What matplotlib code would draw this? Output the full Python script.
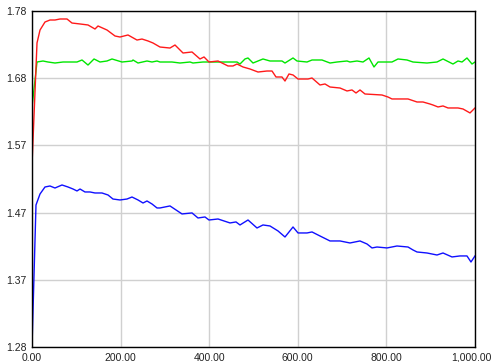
import matplotlib
matplotlib.use('Agg')
import matplotlib.pyplot as plt
import matplotlib.transforms as mtransforms

# values
red_x = [0, 11.3, 18.1, 29.3, 40.6, 51.9, 63.2, 79.0, 90.3, 108.4, 126.4, 142.2, 149.0,
         169.3, 187.4, 198.6, 216.7, 237.0, 248.3, 261.9, 273.1, 288.9, 311.5, 322.8,
         340.9, 361.2, 379.2, 388.3, 399.5, 419.9, 442.4, 453.7, 462.8, 476.3, 492.1,
         510.2, 530.5, 541.8, 550.8, 564.3, 571.1, 580.1, 589.2, 600.5, 623.0, 632.1,
         650.1, 661.4, 672.7, 695.3, 711.1, 722.3, 731.4, 740.4, 751.7, 790.1, 803.6,
         812.6, 848.8, 869.1, 882.6, 898.4, 905.2, 916.5, 927.8, 939.1, 961.6, 972.9,
         988.7, 1000]
red_y = [1.551, 1.7324, 1.7517, 1.7636, 1.7666, 1.7666, 1.7681, 1.7681, 1.7621, 1.7607,
         1.7592, 1.7532, 1.7577, 1.7517, 1.7428, 1.7413, 1.7443, 1.7368, 1.7383, 1.7354,
         1.7324, 1.7264, 1.7249, 1.7294, 1.7175, 1.7190, 1.7086, 1.7116, 1.7041, 1.7056,
         1.6982, 1.6982, 1.7011, 1.6967, 1.6937, 1.6892, 1.6907, 1.6907, 1.6818, 1.6818,
         1.6758, 1.6863, 1.6848, 1.6788, 1.6788, 1.6803, 1.6699, 1.6714, 1.6669, 1.6654,
         1.6610, 1.6625, 1.6580, 1.6625, 1.6565, 1.6550, 1.6520, 1.6491, 1.6491, 1.6446,
         1.6446, 1.6416, 1.6401, 1.6372, 1.6387, 1.6357, 1.6357, 1.6342, 1.6283, 1.6357]

green_x = [0, 11.3, 24.8, 36.1, 51.9, 70.0, 90.3, 101.6, 112.9, 126.4, 140.0, 153.5,
           169.3, 180.6, 203.2, 225.7, 228.0, 239.3, 259.6, 270.9, 282.2, 288.9, 316.0,
           334.1, 356.7, 363.4, 386.0, 462.8, 469.5, 480.8, 487.6, 498.9, 510.2, 521.4,
           537.2, 564.3, 571.1, 589.2, 598.2, 620.8, 632.1, 654.6, 672.7, 688.5, 711.1,
           717.8, 733.6, 747.2, 760.7, 772.0, 781.0, 796.8, 812.6, 826.2, 846.5, 860.0,
           891.6, 914.2, 927.8, 950.3, 961.6, 970.7, 981.9, 993.2, 1000]
green_y = [1.6371, 1.7041, 1.7056, 1.7041, 1.7026, 1.7041, 1.7041, 1.7041, 1.7071,
           1.6996, 1.7086, 1.7041, 1.7056, 1.7086, 1.7041, 1.7056, 1.7071, 1.7026,
           1.7056, 1.7041, 1.7056, 1.7041, 1.7041, 1.7026, 1.7041, 1.7026, 1.7041,
           1.7041, 1.7011, 1.7086, 1.7101, 1.7026, 1.7056, 1.7086, 1.7056, 1.7056,
           1.7026, 1.7101, 1.7056, 1.7041, 1.7071, 1.7071, 1.7026, 1.7041, 1.7056,
           1.7041, 1.7056, 1.7041, 1.7101, 1.6967, 1.7041, 1.7041, 1.7041, 1.7086,
           1.7071, 1.7041, 1.7026, 1.7041, 1.7086, 1.7011, 1.7056, 1.7041, 1.7101,
           1.7011, 1.7041]

blue_x = [0, 9.0, 18.1, 29.3, 40.6, 51.9, 67.7, 81.3, 92.6, 101.6, 108.4, 119.6, 130.9,
          142.2, 158.0, 171.6, 182.8, 198.6, 214.4, 225.7, 239.3, 250.6, 259.6, 270.9,
          282.2, 288.9, 311.5, 338.6, 361.2, 374.7, 390.5, 399.5, 419.9, 447.0, 460.5,
          469.5, 487.6, 507.9, 521.4, 537.2, 555.3, 571.1, 589.2, 600.5, 620.8, 632.1,
          650.1, 672.7, 695.3, 717.8, 740.4, 756.2, 767.5, 778.8, 801.4, 823.9, 848.8,
          860.0, 869.1, 891.6, 914.2, 927.8, 948.1, 966.1, 981.9, 990.9, 1000]
blue_y = [1.28, 1.4913, 1.5077, 1.5181, 1.5196, 1.5166, 1.5211, 1.5181, 1.5151, 1.5122,
          1.5151, 1.5107, 1.5107, 1.5092, 1.5092, 1.5062, 1.5002, 1.4988, 1.5002, 1.5032,
          1.4988, 1.4943, 1.4973, 1.4928, 1.4869, 1.4869, 1.4899, 1.4780, 1.4795, 1.4720,
          1.4735, 1.4690, 1.4705, 1.4646, 1.4661, 1.4616, 1.4690, 1.4571, 1.4616, 1.4601,
          1.4527, 1.4437, 1.4586, 1.4497, 1.4497, 1.4512, 1.4452, 1.4378, 1.4378, 1.4348,
          1.4378, 1.4333, 1.4274, 1.4288, 1.4274, 1.4303, 1.4288, 1.4244, 1.4214, 1.4199,
          1.4169, 1.4199, 1.4140, 1.4155, 1.4155, 1.4065, 1.4155]

x_ticks = [0, 200, 400, 600, 800, 1000]
x_labels = ['0.00', '200.00', '400.00', '600.00', '800.00', '1,000.00']
y_ticks = [1.28, 1.38, 1.48, 1.58, 1.68, 1.78]
y_labels = ['1.28', '1.37', '1.47', '1.57', '1.68', '1.78']

plt.rcParams['font.family'] = ['Liberation Sans', 'DejaVu Sans']

fig = plt.figure(figsize=(4.93, 3.62), dpi=100)
ax = fig.add_axes([32 / 493, 15 / 362, 443 / 493, 336 / 362])

ax.plot(green_x, green_y, color='#00e600', lw=1.0)
ax.plot(red_x, red_y, color='#ff1a1a', lw=1.0)
ax.plot(blue_x, blue_y, color='#1010ff', lw=1.0)

ax.set_xlim(0, 1000)
ax.set_ylim(1.28, 1.78)
ax.set_xticks(x_ticks)
ax.set_xticklabels(x_labels)
ax.set_yticks(y_ticks)
ax.set_yticklabels(y_labels)
ax.tick_params(length=0, labelsize=7.5, colors='#222222')
ax.tick_params(axis='y', pad=4)
ax.tick_params(axis='x', pad=4)
ax.grid(True, color='#d0d0d0', lw=1.0)
ax.set_axisbelow(True)
for side in ax.spines.values():
    side.set_color('black')
    side.set_linewidth(1.0)

# last x label sits a little left so it stays inside the picture
last = ax.get_xticklabels()[-1]
last.set_transform(last.get_transform() +
                   mtransforms.ScaledTranslation(-4 / 100, 0, fig.dpi_scale_trans))

fig.savefig('out.png', dpi=100)
